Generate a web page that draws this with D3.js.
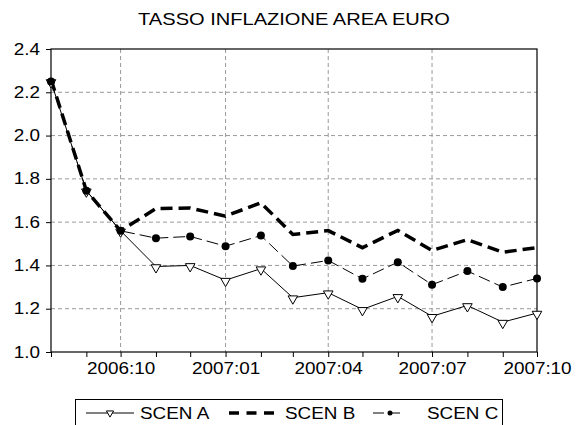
<!DOCTYPE html>
<html>
<head>
<meta charset="utf-8">
<script src="https://cdn.jsdelivr.net/npm/d3@7"></script>
<style>
  body { margin: 0; background: #fff; }
  svg { display: block; font-family: Arial, "Liberation Sans", sans-serif; }
</style>
</head>
<body>
<svg id="chart" width="582" height="425"></svg>
<script>
const months = ["2006:08", "2006:09", "2006:10", "2006:11", "2006:12", "2007:01", "2007:02",
  "2007:03", "2007:04", "2007:05", "2007:06", "2007:07", "2007:08", "2007:09", "2007:10"];
const labeledMonths = ["2006:10", "2007:01", "2007:04", "2007:07", "2007:10"];
const yTicks = [1.0, 1.2, 1.4, 1.6, 1.8, 2.0, 2.2, 2.4];

const scenA = [2.25, 1.745, 1.56, 1.395, 1.40, 1.332, 1.385, 1.251, 1.274, 1.197, 1.257, 1.165, 1.215, 1.138, 1.18];
const scenB = [2.26, 1.745, 1.56, 1.663, 1.665, 1.628, 1.689, 1.543, 1.561, 1.482, 1.562, 1.469, 1.519, 1.461, 1.482];
const scenC = [2.25, 1.745, 1.56, 1.526, 1.534, 1.489, 1.538, 1.397, 1.423, 1.338, 1.415, 1.311, 1.374, 1.300, 1.34];

const parseMonth = d3.timeParse("%Y:%m");
const fmtMonth = d3.timeFormat("%Y:%m");
const dates = months.map(parseMonth);

const svg = d3.select("#chart");
const plotLeft = 51, plotRight = 537, plotTop = 49, plotBottom = 352;

const x = d3.scaleTime().domain(d3.extent(dates)).range([plotLeft, plotRight]);
const y = d3.scaleLinear().domain([1.0, 2.4]).range([plotBottom, plotTop]);

// glyphs in the original are wider than Arial, stretch them a bit
const K = 1.18;
function stretch(sel) {
  sel.each(function () {
    const t = d3.select(this);
    const w = this.getComputedTextLength();
    const anchor = getComputedStyle(this).textAnchor;
    const tx = +t.attr("x") || 0;
    const nw = w * K;
    let x0 = tx;
    if (anchor === "end") x0 = tx - nw;
    if (anchor === "middle") x0 = tx - nw / 2;
    t.attr("x", x0).attr("text-anchor", "start")
      .attr("textLength", nw).attr("lengthAdjust", "spacingAndGlyphs");
  });
}

// title
svg.append("text")
  .attr("x", 294).attr("y", 25)
  .attr("text-anchor", "middle")
  .attr("font-size", 17)
  .text("TASSO INFLAZIONE AREA EURO")
  .call(stretch);

// grid
const grid = svg.append("g").attr("stroke", "#9a9a9a").attr("stroke-dasharray", "4,3");
grid.selectAll("line.h")
  .data(yTicks.filter((v) => v > 1.0 && v < 2.4))
  .join("line")
  .attr("class", "h")
  .attr("x1", plotLeft).attr("x2", plotRight)
  .attr("y1", (d) => y(d)).attr("y2", (d) => y(d));
grid.selectAll("line.v")
  .data(labeledMonths.slice(0, -1).map(parseMonth))
  .join("line")
  .attr("class", "v")
  .attr("x1", (d) => x(d)).attr("x2", (d) => x(d))
  .attr("y1", plotTop).attr("y2", plotBottom);

// axes
const yAxis = svg.append("g")
  .attr("transform", `translate(${plotLeft},0)`)
  .call(d3.axisLeft(y).tickValues(yTicks).tickSize(5).tickPadding(6).tickFormat(d3.format(".1f")));
const xAxis = svg.append("g")
  .attr("transform", `translate(0,${plotBottom})`)
  .call(d3.axisBottom(x).tickValues(dates).tickSize(5).tickPadding(6)
    .tickFormat((d) => labeledMonths.includes(fmtMonth(d)) ? fmtMonth(d) : ""));

[yAxis, xAxis].forEach((g) => {
  g.select(".domain").remove();
  g.attr("font-family", null).attr("font-size", 16);
  g.selectAll("line").attr("stroke", "#000");
  g.selectAll("text").attr("fill", "#000");
  g.selectAll("text").call(stretch);
});

// frame
svg.append("rect")
  .attr("x", plotLeft).attr("y", plotTop)
  .attr("width", plotRight - plotLeft).attr("height", plotBottom - plotTop)
  .attr("fill", "none").attr("stroke", "#000").attr("stroke-width", 1.2);

const line = d3.line().x((d, i) => x(dates[i])).y((d) => y(d));

svg.append("path").datum(scenB)
  .attr("d", line).attr("fill", "none")
  .attr("stroke", "#000").attr("stroke-width", 3.5).attr("stroke-dasharray", "12,6");

svg.append("path").datum(scenC)
  .attr("d", line).attr("fill", "none")
  .attr("stroke", "#000").attr("stroke-width", 1).attr("stroke-dasharray", "12,5");

svg.append("path").datum(scenA)
  .attr("d", line).attr("fill", "none")
  .attr("stroke", "#000").attr("stroke-width", 1);

const tri = d3.symbol().type(d3.symbolTriangle).size(40);
svg.append("g").selectAll("path")
  .data(scenA)
  .join("path")
  .attr("d", tri)
  .attr("transform", (d, i) => `translate(${x(dates[i])},${y(d) + 1}) rotate(180)`)
  .attr("fill", "#fff").attr("stroke", "#000").attr("stroke-width", 1);

svg.append("g").selectAll("circle")
  .data(scenC)
  .join("circle")
  .attr("cx", (d, i) => x(dates[i])).attr("cy", (d) => y(d))
  .attr("r", 4).attr("fill", "#000");

// legend
const legend = svg.append("g");
legend.append("rect")
  .attr("x", 75.5).attr("y", 399.5).attr("width", 427).attr("height", 40)
  .attr("fill", "none").attr("stroke", "#000");
const ly = 413;

legend.append("line").attr("x1", 86).attr("x2", 134).attr("y1", ly).attr("y2", ly)
  .attr("stroke", "#000");
legend.append("path").attr("d", d3.symbol().type(d3.symbolTriangle).size(22))
  .attr("transform", `translate(110,${ly}) rotate(180)`)
  .attr("fill", "#fff").attr("stroke", "#000");

legend.append("line").attr("x1", 229).attr("x2", 274).attr("y1", ly).attr("y2", ly)
  .attr("stroke", "#000").attr("stroke-width", 3.5).attr("stroke-dasharray", "10,7.5");

legend.append("line").attr("x1", 373).attr("x2", 404).attr("y1", ly).attr("y2", ly)
  .attr("stroke", "#000").attr("stroke-dasharray", "11,5");
legend.append("circle").attr("cx", 390).attr("cy", ly).attr("r", 2.5).attr("fill", "#000");

const legendLabels = ["SCEN A", "SCEN B", "SCEN C"];
const legendX = [140, 285, 427];
legend.selectAll("text")
  .data(legendLabels)
  .join("text")
  .attr("x", (d, i) => legendX[i]).attr("y", ly + 6)
  .attr("font-size", 16)
  .text((d) => d)
  .call(stretch);
</script>
</body>
</html>
